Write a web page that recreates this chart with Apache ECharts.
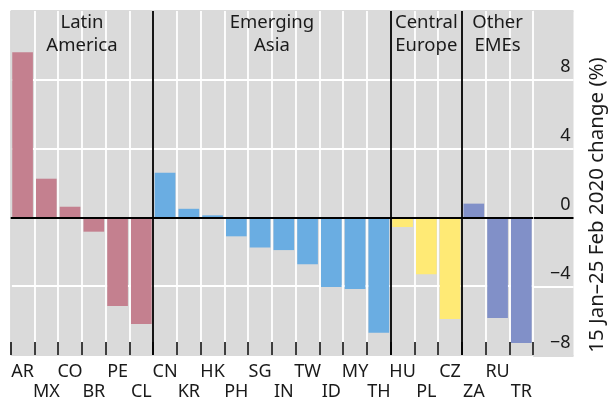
<!DOCTYPE html>
<html>
<head>
<meta charset="utf-8">
<script src="https://cdn.jsdelivr.net/npm/echarts@6/dist/echarts.min.js"></script>
<style>
  html, body { margin: 0; padding: 0; background: #fff; }
  #main { width: 609px; height: 402px; }
</style>
</head>
<body>
<div id="main"></div>
<script>
var chartDom = document.getElementById('main');
var myChart = echarts.init(chartDom);
var option;

// economies, in chart order
const countries = ['AR', 'MX', 'CO', 'BR', 'PE', 'CL',
  'CN', 'KR', 'HK', 'PH', 'SG', 'IN', 'TW', 'ID', 'MY', 'TH',
  'HU', 'PL', 'CZ',
  'ZA', 'RU', 'TR'];
// 15 Jan-25 Feb 2020 change, %
const changes = [9.6, 2.25, 0.62, -0.83, -5.15, -6.2,
  2.6, 0.5, 0.12, -1.1, -1.75, -1.9, -2.72, -4.05, -4.17, -6.7,
  -0.56, -3.3, -5.9,
  0.8, -5.85, -7.3];
const groupNames = ['Latin\nAmerica', 'Emerging\nAsia', 'Central\nEurope', 'Other\nEMEs'];
const groupSizes = [6, 10, 3, 3];
const groupColors = ['#c4808f', '#6aade2', '#ffea75', '#8190c8'];
const yTicks = [-8, -4, 0, 4, 8, 12];

const font = 'Noto Sans';
const gray = '#dadada';
const clear = 'rgba(0,0,0,0)';

// colour per bar + section boundaries
let barColors = [];
let boundaries = [];
let areas = [];
let start = 0;
groupSizes.forEach(function (n, g) {
  for (let k = 0; k < n; k++) barColors.push(groupColors[g]);
  areas.push([{ xAxis: countries[start], name: groupNames[g] }, { xAxis: countries[start + n - 1] }]);
  start += n;
  boundaries.push(start);
});

// split line colours: white between bars, black between sections
let vLineColors = [];
for (let i = 0; i <= countries.length; i++) {
  if (i === 0) vLineColors.push(gray);
  else if (boundaries.indexOf(i) >= 0 && i < countries.length) vLineColors.push('#000');
  else vLineColors.push('#fff');
}
let hLineColors = yTicks.map(function (t, i) {
  return (i === 0 || i === yTicks.length - 1) ? gray : '#fff';
});
// right strip: zero line drawn as black split line
let hLineColorsRight = yTicks.map(function (t, i) {
  if (t === 0) return '#000';
  return (i === 0 || i === yTicks.length - 1) ? gray : '#fff';
});

const data = changes.map(function (v, i) {
  return { value: v, itemStyle: { color: barColors[i] } };
});

option = {
  backgroundColor: '#fff',
  animation: false,
  textStyle: { fontFamily: font },
  grid: [
    { left: 10.7, top: 11, width: 522.5, bottom: 46, show: true, backgroundColor: gray, borderWidth: 0 },
    { left: 533.2, top: 11, right: 35.5, bottom: 46, show: true, backgroundColor: gray, borderWidth: 0 }
  ],
  xAxis: [
    {
      type: 'category',
      gridIndex: 0,
      data: countries,
      axisLine: { show: false, onZero: false },
      axisTick: { show: true, inside: true, length: 13, interval: 0, lineStyle: { color: '#000', width: 1.5 } },
      axisLabel: {
        interval: 0,
        margin: 7,
        fontSize: 18,
        lineHeight: 20,
        color: '#1a1a1a',
        fontFamily: font,
        hideOverlap: false,
        formatter: function (v, i) { return i % 2 === 1 ? '\n' + v : v; }
      },
      splitLine: { show: true, interval: 0, lineStyle: { color: vLineColors, width: 1.8 } }
    },
    {
      type: 'category',
      gridIndex: 1,
      show: false,
      data: ['']
    }
  ],
  yAxis: [
    {
      type: 'value',
      gridIndex: 0,
      min: -8, max: 12, interval: 4,
      axisLine: { show: false },
      axisTick: { show: false },
      axisLabel: { show: false },
      splitLine: { show: true, lineStyle: { color: hLineColors, width: 2 } }
    },
    {
      type: 'value',
      gridIndex: 1,
      position: 'right',
      min: -8, max: 12, interval: 4,
      axisLine: { show: false },
      axisTick: { show: false },
      axisLabel: {
        inside: true,
        margin: 3,
        fontSize: 18,
        lineHeight: 18,
        color: '#1a1a1a',
        fontFamily: font,
        verticalAlign: 'bottom',
        padding: [0, 0, 4, 0],
        showMaxLabel: false,
        formatter: function (v) { return v === 12 ? '' : String(v).replace('-', '\u2212'); }
      },
      splitLine: { show: true, lineStyle: { color: hLineColorsRight, width: 2 } }
    }
  ],
  graphic: [
    {
      type: 'text',
      x: 597, y: 205,
      rotation: Math.PI / 2,
      style: {
        text: '15 Jan\u201325 Feb 2020 change (%)',
        font: '20.5px "Noto Sans"',
        fill: '#1a1a1a',
        align: 'center',
        verticalAlign: 'middle'
      }
    }
  ],
  series: [
    {
      type: 'bar',
      xAxisIndex: 0,
      yAxisIndex: 0,
      data: data,
      barWidth: '87%',
      markLine: {
        silent: true,
        symbol: 'none',
        label: { show: false },
        lineStyle: { color: '#000', width: 2, type: 'solid' },
        data: [{ yAxis: 0 }]
      },
      markArea: {
        silent: true,
        itemStyle: { color: clear },
        label: {
          show: true,
          position: 'insideTop',
          distance: 0,
          formatter: '{b}',
          fontSize: 18.5,
          lineHeight: 23,
          color: '#1a1a1a',
          fontFamily: font
        },
        data: areas
      }
    }
  ]
};

option && myChart.setOption(option);
</script>
</body>
</html>
